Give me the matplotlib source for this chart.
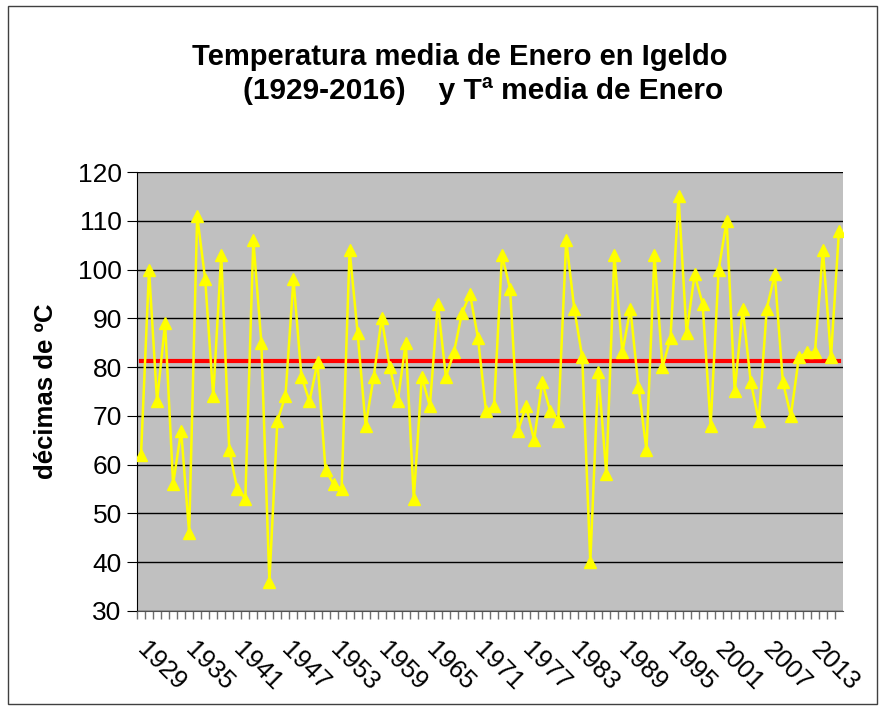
import numpy as np
import matplotlib.pyplot as plt
from matplotlib.patches import Rectangle
from matplotlib.ticker import FixedLocator

plt.rcParams["font.family"] = ["Liberation Sans", "DejaVu Sans"]

# Datos: temperatura media de enero en Igeldo (décimas de ºC)
years = list(range(1929, 2017))
temp = [
    62, 100, 73, 89, 56, 67, 46, 111, 98, 74,
    103, 63, 55, 53, 106, 85, 36, 69, 74, 98,
    78, 73, 81, 59, 56, 55, 104, 87, 68, 78,
    90, 80, 73, 85, 53, 78, 72, 93, 78, 83,
    91, 95, 86, 71, 72, 103, 96, 67, 72, 65,
    77, 71, 69, 106, 92, 82, 40, 79, 58, 103,
    83, 92, 76, 63, 103, 80, 86, 115, 87, 99,
    93, 68, 100, 110, 75, 92, 77, 69, 92, 99,
    77, 70, 82, 83, 83, 104, 82, 108,
]
media = 81.2
label_years = list(range(1929, 2017, 6))

fig = plt.figure(figsize=(8.85, 7.10), dpi=100)
ax = fig.add_axes([137 / 885, 1 - 611 / 710, (843 - 137) / 885, (611 - 172) / 710])
ax.set_facecolor("#C0C0C0")

x = np.arange(len(years))
ax.plot(x, temp, color="#FFFF00", lw=1.8, marker="^", ms=8, mec="#FFFF00", zorder=3)
ax.plot(x, np.full(len(years), media), color="#FF0000", lw=3, zorder=2)

ax.set_xlim(-0.5, len(years) - 0.5)
ax.set_ylim(30, 120)
ax.set_yticks(range(30, 121, 10))
ax.yaxis.grid(True, color="black", lw=1)
ax.set_axisbelow(True)

# etiquetas del eje x cada 6 años
ax.set_xticks([years.index(y) for y in label_years])
ax.set_xticklabels([str(y) for y in label_years], rotation=-45,
                   ha="left", va="center", rotation_mode="anchor")
ax.xaxis.set_minor_locator(FixedLocator(np.arange(-0.5, len(years) - 0.5, 1)))
ax.tick_params(axis="x", which="major", length=0, pad=25, labelsize=18.5)
ax.tick_params(axis="x", which="minor", length=6, color="#707070", width=1)
ax.tick_params(axis="y", length=7, labelsize=19, pad=4)

for s in ["top", "right"]:
    ax.spines[s].set_visible(False)
ax.spines["left"].set_color("black")
ax.spines["bottom"].set_color("#505050")

ax.set_ylabel("décimas de ºC", fontsize=18.5, fontweight="bold", labelpad=14)

fig.text(460 / 885, 1 - 57 / 710, "Temperatura media de Enero en Igeldo",
         ha="center", va="center", fontsize=21, fontweight="bold")
fig.text(483 / 885, 1 - 91 / 710, "(1929-2016)    y Tª media de Enero",
         ha="center", va="center", fontsize=21.5, fontweight="bold")

fig.patches.append(Rectangle((8 / 885, 6 / 710), 869 / 885, 698 / 710,
                             transform=fig.transFigure, fill=False,
                             edgecolor="#404040", lw=1))

plt.savefig("out.png", dpi=100)
